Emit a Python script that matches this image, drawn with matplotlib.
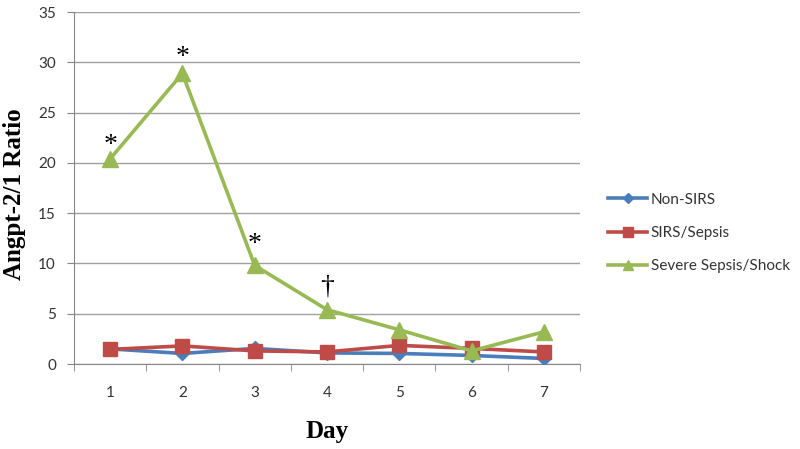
import matplotlib
matplotlib.use("Agg")
import matplotlib.pyplot as plt
import numpy as np

days = ["1", "2", "3", "4", "5", "6", "7"]
non_sirs = [1.5, 1.05, 1.55, 1.1, 1.05, 0.85, 0.55]
sirs_sepsis = [1.45, 1.8, 1.3, 1.2, 1.85, 1.55, 1.2]
severe = [20.4, 28.9, 9.8, 5.4, 3.4, 1.3, 3.2]
y_ticks = [0, 5, 10, 15, 20, 25, 30, 35]
annotations = ["*", "*", "*", "\u2020", "", "", ""]
annot_y = [21.7, 30.5, 11.9, 7.7, None, None, None]

fig = plt.figure(figsize=(8, 4.49), dpi=100)
ax = fig.add_axes([74/800, 1-364/449, (580-74)/800, (364-12)/449])

x = np.arange(len(days))
tick_font = "Lato"
ax.plot(x, non_sirs, color="#4A7EBB", lw=2.6, marker="D", ms=7, label="Non-SIRS", zorder=3)
ax.plot(x, sirs_sepsis, color="#BE4B48", lw=2.6, marker="s", ms=10, label="SIRS/Sepsis", zorder=4)
ax.plot(x, severe, color="#98B954", lw=2.6, marker="^", ms=11, label="Severe Sepsis/Shock", zorder=5)

for xi, t, yy in zip(x, annotations, annot_y):
    if t and yy is not None:
        ax.text(xi, yy, t, ha="center", va="center", fontsize=20,
                family="Liberation Serif", color="black")

ax.set_xlim(-0.5, len(days) - 0.5)
ax.set_ylim(0, 35)
ax.set_yticks(y_ticks)
ax.set_yticklabels([str(v) for v in y_ticks], family=tick_font, fontsize=11, color="#333333")
ax.set_xticks(x)
ax.set_xticklabels(days, family=tick_font, fontsize=11, color="#333333")
ax.set_xticks(np.arange(-0.5, len(days)), minor=True)
ax.tick_params(axis="x", which="major", length=0, pad=16)
ax.tick_params(axis="x", which="minor", length=5, color="#868686")
ax.tick_params(axis="y", length=5, color="#868686", pad=8)

ax.grid(axis="y", color="#A0A0A0", lw=1)
ax.set_axisbelow(True)
for s in ["top", "right"]:
    ax.spines[s].set_visible(False)
for s in ["left", "bottom"]:
    ax.spines[s].set_color("#868686")

ax.set_xlabel("Day", family="Liberation Serif", fontweight="bold", fontsize=18, labelpad=14)
ax.set_ylabel("Angpt-2/1 Ratio", family="Liberation Serif", fontweight="bold", fontsize=18)
ax.yaxis.set_label_coords((26 - 74) / 506, (364 - 194) / 352)

leg = fig.legend(loc="upper left", bbox_to_anchor=(594/800, 1-179/449), frameon=False,
                 prop={"family": tick_font, "size": 11}, handlelength=2.6,
                 handletextpad=0.2, labelspacing=1.25, markerscale=0.7)
for t in leg.get_texts():
    t.set_color("#333333")

fig.savefig("out.png", dpi=100)
